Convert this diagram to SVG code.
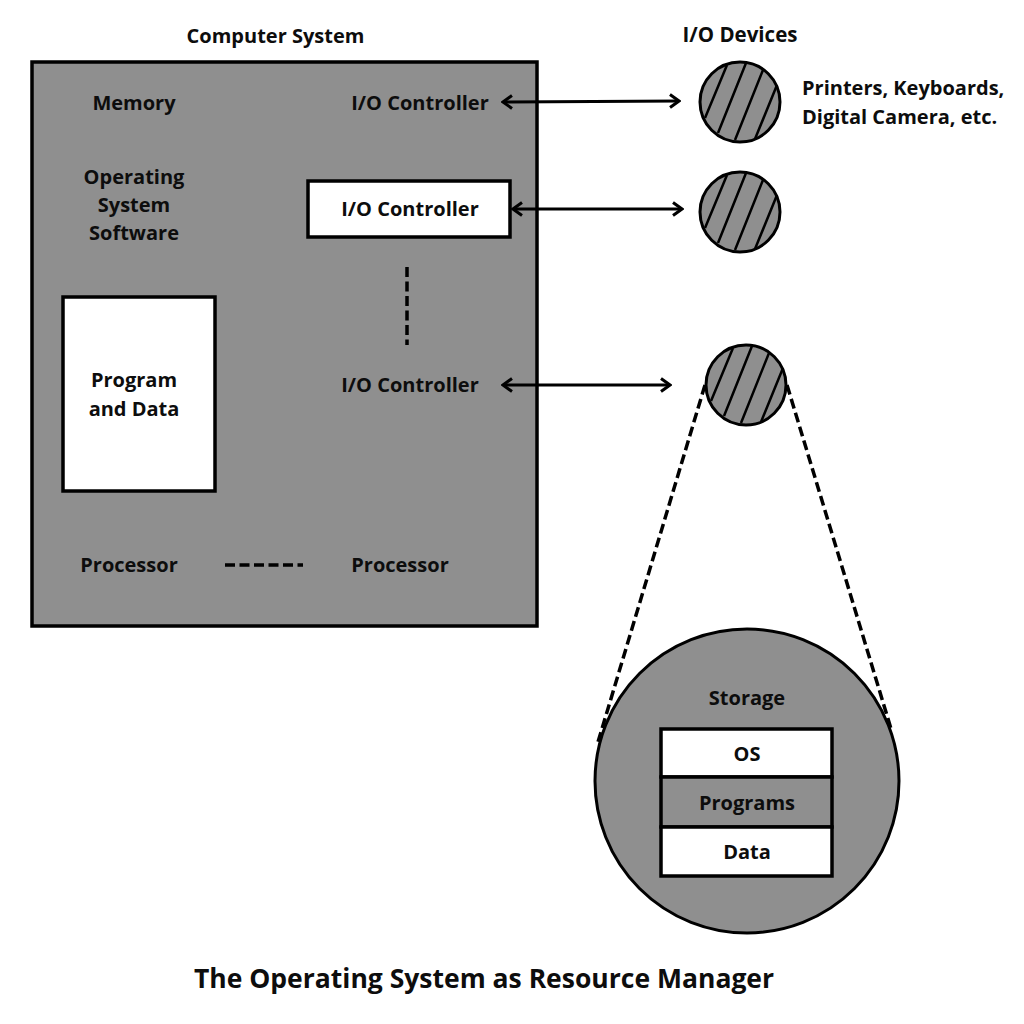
<svg xmlns="http://www.w3.org/2000/svg" xmlns:xlink="http://www.w3.org/1999/xlink" width="1024" height="1024" viewBox="0 0 1024 1024">
<style>
text{font-family:"Open Sans","Liberation Sans",sans-serif;font-weight:700;font-size:20px;fill:#0d0d0d;text-anchor:middle}
.g{fill:#8f8f8f;stroke:#000}
.w{fill:#fff;stroke:#000;stroke-width:3.5}
.a{fill:none;stroke:#000;stroke-width:3;marker-start:url(#ah);marker-end:url(#ah)}
.d{fill:none;stroke:#000;stroke-width:3.5;stroke-dasharray:10 4.5}
.h{stroke:#000;stroke-width:2.5;fill:none}
</style>
<defs>
<marker id="ah" markerUnits="userSpaceOnUse" markerWidth="14" markerHeight="16" viewBox="0 0 14 16" refX="12" refY="8" orient="auto-start-reverse"><path d="M3 1.5L12 8L3 14.5" fill="none" stroke="#000" stroke-width="3"/></marker>
<g id="disk"><circle class="g" stroke-width="3" cx="740" cy="102" r="40"/><path class="h" d="M727 65L705 118M746 63L718 133M763 70L735 140M777 85L755 139"/></g>
</defs>
<g id="computer-system">
<rect class="g" stroke-width="3.5" x="32" y="62" width="505" height="564"/>
<text x="275.500" y="43">Computer System</text>
</g>
<g id="memory"><text x="134" y="110">Memory</text></g>
<g id="os-software"><text x="134" y="184">Operating</text><text x="134" y="212">System</text><text x="134" y="240">Software</text></g>
<g id="program-data"><rect class="w" x="63" y="297" width="152" height="194"/><text x="134" y="387">Program</text><text x="134" y="416">and Data</text></g>
<g id="processor-1"><text x="129" y="572">Processor</text></g>
<g id="processor-2"><text x="400" y="572">Processor</text></g>
<g id="io-controller-1"><text x="420" y="110">I/O Controller</text></g>
<g id="io-controller-2"><rect class="w" x="308" y="181" width="202" height="56"/><text x="410" y="216">I/O Controller</text></g>
<g id="io-controller-3"><text x="410" y="392">I/O Controller</text></g>
<g id="io-devices-label"><text x="740" y="42" style="font-size:20.500px">I/O Devices</text></g>
<g id="device-1"><use href="#disk"/></g>
<g id="device-2"><use href="#disk" y="110"/></g>
<g id="device-3"><use href="#disk" x="6" y="283"/></g>
<g id="device-note"><text x="802" y="95" style="text-anchor:start">Printers, Keyboards,</text><text x="802" y="124" style="text-anchor:start">Digital Camera, etc.</text></g>
<g id="storage">
<circle class="g" stroke-width="3" cx="747" cy="781" r="152"/>
<text x="747" y="705">Storage</text>
<rect class="w" x="661" y="729" width="171" height="48"/><text x="747" y="761">OS</text>
<rect class="g" stroke-width="3.5" x="661" y="777" width="171" height="50"/><text x="747" y="810">Programs</text>
<rect class="w" x="661" y="827" width="171" height="49"/><text x="747" y="859">Data</text>
</g>
<g id="connectors">
<path class="d" d="M705 385L598 742"/>
<path class="d" d="M787 385L892 732"/>
<path class="a" d="M503 102L679 101"/>
<path class="a" d="M513 209L682 209"/>
<path class="a" d="M503 385L670 385"/>
<path class="d" d="M407 267V345"/>
<path class="d" d="M225 565H303"/>
</g>
<g id="title"><text x="484" y="988" style="font-size:26.500px">The Operating System as Resource Manager</text></g>
</svg>
